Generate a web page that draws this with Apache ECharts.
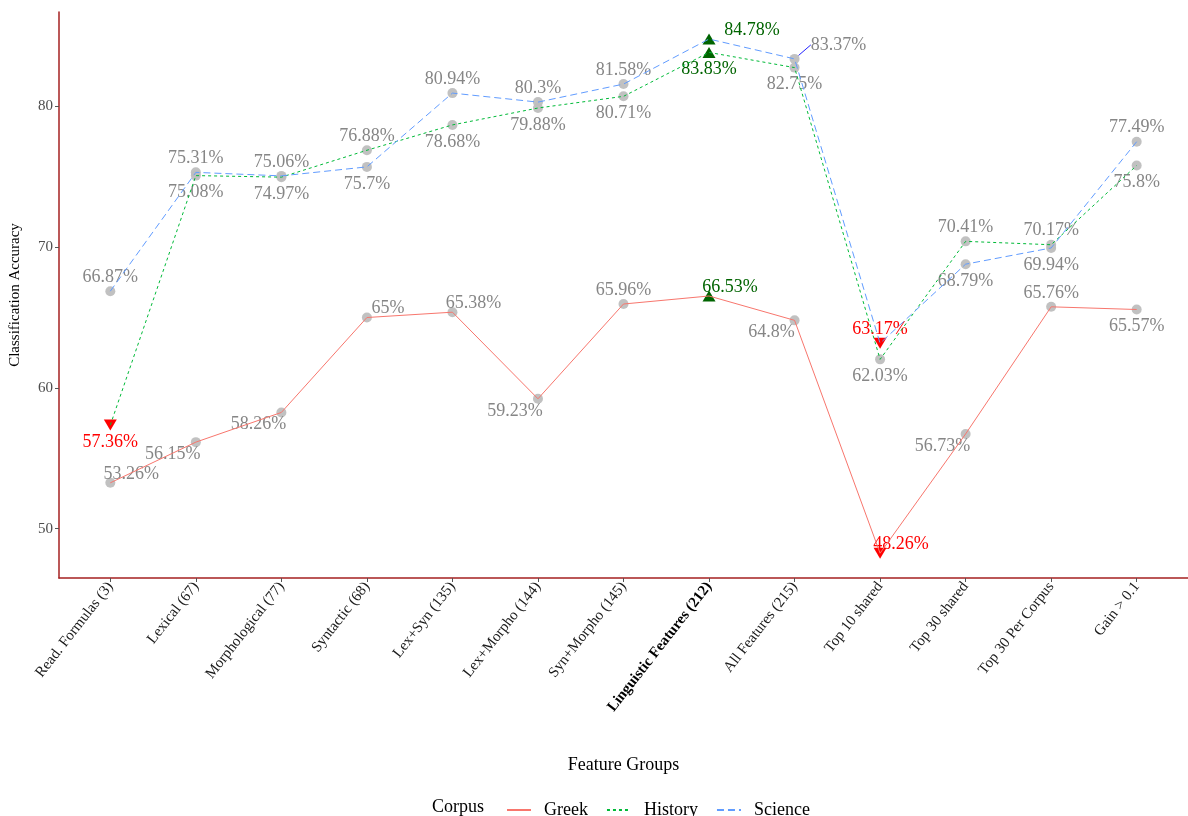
<!DOCTYPE html>
<html>
<head>
<meta charset="utf-8">
<script src="https://cdn.jsdelivr.net/npm/echarts@6/dist/echarts.min.js"></script>
<style>
  html, body { margin: 0; padding: 0; background: #ffffff; }
  #chart { width: 1188px; height: 816px; }
</style>
</head>
<body>
<div id="chart"></div>
<script>
// Feature groups on the x axis (the highlighted one is printed in bold)
const featureGroups = [
  'Read. Formulas (3)', 'Lexical (67)', 'Morphological (77)', 'Syntactic (68)',
  'Lex+Syn (135)', 'Lex+Morpho (144)', 'Syn+Morpho (145)', 'Linguistic Features (212)',
  'All Features (215)', 'Top 10 shared', 'Top 30 shared', 'Top 30 Per Corpus', 'Gain > 0.1'
];
const highlightedGroup = 'Linguistic Features (212)';

// Classification accuracy (%) per corpus
const greek   = [53.26, 56.15, 58.26, 65, 65.38, 59.23, 65.96, 66.53, 64.8, 48.26, 56.73, 65.76, 65.57];
const history = [57.36, 75.08, 74.97, 76.88, 78.68, 79.88, 80.71, 83.83, 82.75, 62.03, 70.41, 70.17, 75.8];
const science = [66.87, 75.31, 75.06, 75.7, 80.94, 80.3, 81.58, 84.78, 83.37, 63.17, 68.79, 69.94, 77.49];

const yTicks = [50, 60, 70, 80];

// Where each value label sits relative to its point
const greekLabelAt   = ['ur', 'dl', 'dl', 'ur', 'ur', 'dl', 'a', 'ur', 'dl', 'ur', 'dl', 'a', 'b'];
const historyLabelAt = ['b', 'b', 'b', 'a', 'b', 'b', 'b', 'b', 'b', 'b', 'a', 'a', 'b'];
const scienceLabelAt = ['a', 'a', 'a', 'b', 'a', 'a', 'a', 'r', 'rr', 'a', 'b', 'b', 'a'];

const labelShift = {
  a: [0, -14], b: [0, 17], ur: [21, -9], dl: [-23, 12], r: [43, -9], rr: [44, -14]
};

const SERIF = '"Liberation Serif", "DejaVu Serif", serif';
const corpora = [
  { name: 'Greek',   values: greek,   labelAt: greekLabelAt,   color: '#F8766D', dash: 'solid' },
  { name: 'History', values: history, labelAt: historyLabelAt, color: '#00BA38', dash: [3, 3] },
  { name: 'Science', values: science, labelAt: scienceLabelAt, color: '#619CFF', dash: [7, 4] }
];

function pointSeries(c) {
  const hi = Math.max(...c.values);
  const lo = Math.min(...c.values);
  const data = c.values.map((v, i) => {
    const item = { value: [i, v] };
    let labelColor = '#808080';
    if (v === hi) {
      item.symbol = 'triangle';
      item.symbolSize = [13, 11];
      item.itemStyle = { color: '#006400', opacity: 1 };
      labelColor = '#006400';
    } else if (v === lo) {
      item.symbol = 'triangle';
      item.symbolRotate = 180;
      item.symbolSize = [13, 11];
      item.itemStyle = { color: '#FF0000', opacity: 1 };
      labelColor = '#FF0000';
    }
    item.label = { color: labelColor };
    if (c.labelAt[i] === 'rr') {
      item.labelLine = { show: true, lineStyle: { color: '#2222ff', width: 1 } };
    }
    return item;
  });
  return {
    name: c.name + ' points',
    type: 'scatter',
    z: 1,
    symbol: 'circle',
    symbolSize: 10,
    itemStyle: { color: '#bebebe', opacity: 0.95 },
    data: data,
    label: {
      show: true,
      position: 'inside',
      align: 'center',
      verticalAlign: 'middle',
      fontFamily: SERIF,
      fontSize: 18,
      formatter: p => p.value[1] + '%'
    },
    labelLine: { show: false },
    labelLayout: function (params) {
      const s = labelShift[c.labelAt[params.dataIndex]];
      return { dx: s[0], dy: s[1] };
    },
    emphasis: { disabled: true },
    silent: true
  };
}

function lineSeries(c) {
  return {
    name: c.name,
    type: 'line',
    z: 3,
    symbol: 'none',
    data: c.values.map((v, i) => [i, v]),
    lineStyle: { color: c.color, width: 1, type: c.dash },
    itemStyle: { color: c.color },
    emphasis: { disabled: true },
    silent: true
  };
}

const groupIdx = featureGroups.map((_, i) => i);

const option = {
  backgroundColor: '#ffffff',
  animation: false,
  title: {
    text: 'Corpus',
    left: 432,
    top: 798,
    padding: 0,
    textStyle: { fontFamily: SERIF, fontSize: 18, fontWeight: 'normal', color: '#000000' }
  },
  legend: {
    data: corpora.map(c => c.name),
    left: 506,
    top: 801,
    padding: 0,
    itemWidth: 24,
    itemHeight: 14,
    itemGap: 18,
    itemStyle: { opacity: 0 },
    textStyle: { fontFamily: SERIF, fontSize: 18, color: '#000000', padding: [0, 0, 0, 8] }
  },
  grid: { left: 59, right: -7, top: 12, bottom: 238, containLabel: false },
  xAxis: {
    type: 'value',
    min: -0.6,
    max: 12.6,
    name: 'Feature Groups',
    nameLocation: 'middle',
    nameGap: 178,
    nameTextStyle: { fontFamily: SERIF, fontSize: 18, color: '#000000' },
    splitLine: { show: false },
    axisLine: { show: true, onZero: false, lineStyle: { color: '#A52020', width: 1.5 } },
    axisTick: { show: true, length: 4, customValues: groupIdx, lineStyle: { color: '#555555' } },
    axisLabel: {
      customValues: groupIdx,
      rotate: 52,
      margin: 6,
      fontFamily: SERIF,
      fontSize: 15,
      color: '#1a1a1a',
      formatter: v => {
        const name = featureGroups[Math.round(v)];
        return name === highlightedGroup ? '{b|' + name + '}' : name;
      },
      rich: { b: { fontWeight: 'bold', fontFamily: SERIF, fontSize: 15, color: '#000000' } }
    }
  },
  yAxis: {
    type: 'value',
    min: 46.5,
    max: 86.7,
    name: 'Classification Accuracy',
    nameLocation: 'middle',
    nameGap: 36,
    nameTextStyle: { fontFamily: SERIF, fontSize: 15, color: '#000000' },
    splitLine: { show: false },
    axisLine: { show: true, onZero: false, lineStyle: { color: '#A52020', width: 1.5 } },
    axisTick: { show: true, length: 4, customValues: yTicks, lineStyle: { color: '#555555' } },
    axisLabel: {
      customValues: yTicks,
      margin: 6,
      fontFamily: SERIF,
      fontSize: 15,
      color: '#4d4d4d'
    }
  },
  series: [
    ...corpora.map(pointSeries),
    ...corpora.map(lineSeries)
  ]
};

const chart = echarts.init(document.getElementById('chart'), null, { renderer: 'canvas' });
chart.setOption(option);
</script>
</body>
</html>
